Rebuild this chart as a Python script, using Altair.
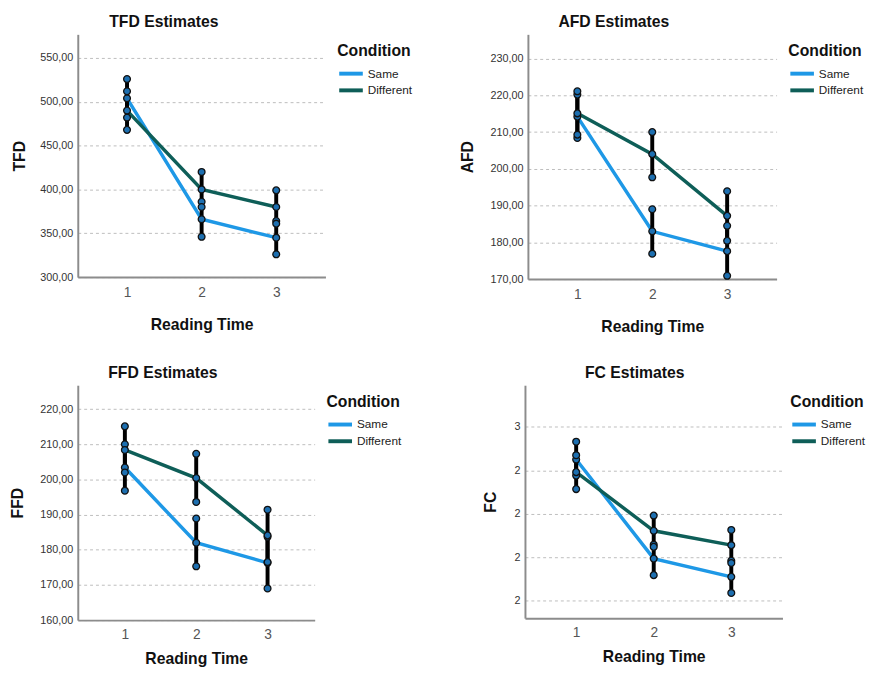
import altair as alt
import pandas as pd

reading_time = [1, 2, 3]
conditions = ["Same", "Different"]

# TFD
tfd_same = [504, 366, 345]
tfd_same_lo = [482, 346, 326]
tfd_same_hi = [526, 386, 364]
tfd_diff = [490, 400, 380]
tfd_diff_lo = [468, 380, 361]
tfd_diff_hi = [512, 420, 399]
tfd_ticks = [300, 350, 400, 450, 500, 550]

# AFD
afd_same = [214.2, 183.0, 177.6]
afd_same_lo = [208.4, 176.9, 170.9]
afd_same_hi = [220.2, 189.0, 184.5]
afd_diff = [215.1, 204.0, 187.2]
afd_diff_lo = [209.3, 197.7, 180.4]
afd_diff_hi = [221.1, 210.0, 193.9]
afd_ticks = [170, 180, 190, 200, 210, 220, 230]

# FFD
ffd_same = [203.4, 182.0, 176.3]
ffd_same_lo = [196.8, 175.3, 169.0]
ffd_same_hi = [210.0, 188.9, 183.7]
ffd_diff = [208.4, 200.4, 184.1]
ffd_diff_lo = [202.0, 193.6, 176.5]
ffd_diff_hi = [215.1, 207.3, 191.4]
ffd_ticks = [160, 170, 180, 190, 200, 210, 220]

# FC
fc_same = [2.425, 2.197, 2.155]
fc_same_lo = [2.388, 2.159, 2.118]
fc_same_hi = [2.466, 2.229, 2.192]
fc_diff = [2.396, 2.261, 2.228]
fc_diff_lo = [2.357, 2.224, 2.187]
fc_diff_hi = [2.435, 2.296, 2.263]
fc_ticks = [2.1, 2.2, 2.3, 2.4, 2.5]

BLUE = "#1E98E6"
TEAL = "#0E5E58"
FONT = "Liberation Sans"
COMMA_EXPR = "replace(format(datum.value, '.2f'), '.', ',')"
INT_EXPR = "format(datum.value, 'd')"


def make_df(same, slo, shi, diff, dlo, dhi):
    rows = []
    for cond, m, lo, hi in [("Same", same, slo, shi), ("Different", diff, dlo, dhi)]:
        for t, a, b, c in zip(reading_time, m, lo, hi):
            rows.append({"time": t, "cond": cond, "mean": a, "lo": b, "hi": c})
    return pd.DataFrame(rows)


def panel(df, name, ydomain, yticks, label_expr, w, h, title_dx, ytitle_pad,
          xtitle_pad, xlabel_pad, legend_gap):
    xscale = alt.Scale(domain=[0.34, 3.66], nice=False, zero=False)
    xaxis = alt.Axis(values=reading_time, format="d", title="Reading Time", grid=False,
                     ticks=False, labelFontSize=14, labelColor="#555555",
                     labelPadding=xlabel_pad, titlePadding=xtitle_pad,
                     domainColor="#8c8c8c", domainWidth=2,
                     titleFontSize=16, titleFontWeight="bold", titleColor="#111111",
                     labelFont=FONT, titleFont=FONT)
    yscale = alt.Scale(domain=ydomain, nice=False, zero=False)
    yaxis = alt.Axis(values=yticks, labelExpr=label_expr, title=name, grid=True,
                     gridDash=[3, 3], gridColor="#bdbdbd", gridWidth=1, ticks=False,
                     labelFontSize=11, labelColor="#333333", labelPadding=5,
                     titlePadding=ytitle_pad, domainColor="#8c8c8c", domainWidth=2,
                     titleFontSize=16, titleFontWeight="bold", titleColor="#111111",
                     labelFont=FONT, titleFont=FONT)
    legend = alt.Legend(title="Condition", orient="none", legendX=w + legend_gap, legendY=9,
                        symbolType="M-1,0H3.8", symbolStrokeWidth=4, symbolSize=100,
                        rowPadding=1, labelFontSize=12, labelColor="#222222",
                        titleFontSize=16, titleFontWeight="bold", titleColor="#111111",
                        titlePadding=8, labelOffset=17, labelFont=FONT, titleFont=FONT)
    base = alt.Chart(df)
    x = alt.X("time:Q", scale=xscale, axis=xaxis)
    lines = base.mark_line(strokeWidth=3.5).encode(
        x=x,
        y=alt.Y("mean:Q", scale=yscale, axis=yaxis),
        color=alt.Color("cond:N", scale=alt.Scale(domain=conditions, range=[BLUE, TEAL]),
                        legend=legend),
        order=alt.Order("time:Q"),
    )
    bars = base.mark_rule(color="black", strokeWidth=4).encode(
        x=x,
        y=alt.Y("lo:Q", scale=yscale, axis=yaxis),
        y2="hi:Q",
    )
    pts = base.transform_fold(["lo", "mean", "hi"], as_=["stat", "val"]).mark_circle(
        size=48, color="#1d6fb0", stroke="#111111", strokeWidth=1.3, opacity=1
    ).encode(
        x=x,
        y=alt.Y("val:Q", scale=yscale, axis=yaxis),
    )
    return alt.layer(lines, bars, pts).properties(
        width=w, height=h,
        title=alt.TitleParams(text=f"{name} Estimates", anchor="start", frame="group",
                              dx=title_dx, fontSize=16, fontWeight="bold", color="#111111",
                              font=FONT, offset=4),
    )


p1 = panel(make_df(tfd_same, tfd_same_lo, tfd_same_hi, tfd_diff, tfd_diff_lo, tfd_diff_hi),
           "TFD", [300, 577], tfd_ticks, COMMA_EXPR, 252, 247, 32, 13, 17, 9, 12)
p2 = panel(make_df(afd_same, afd_same_lo, afd_same_hi, afd_diff, afd_diff_lo, afd_diff_hi),
           "AFD", [170, 236.6], afd_ticks, COMMA_EXPR, 253, 249, 31, 15, 17, 9, 12)
p3 = panel(make_df(ffd_same, ffd_same_lo, ffd_same_hi, ffd_diff, ffd_diff_lo, ffd_diff_hi),
           "FFD", [160, 226.8], ffd_ticks, COMMA_EXPR, 241, 239, 31, 15, 9, 8, 12)
p4 = panel(make_df(fc_same, fc_same_lo, fc_same_hi, fc_diff, fc_diff_lo, fc_diff_hi),
           "FC", [2.06, 2.596], fc_ticks, INT_EXPR, 262, 237, 61, 16, 9, 8, 8)

row1 = alt.hconcat(p1, p2, spacing=45).resolve_scale(color="independent").resolve_legend(color="independent")
row2 = alt.hconcat(p3, p4, spacing=80).resolve_scale(color="independent").resolve_legend(color="independent")

chart = (
    alt.vconcat(row1, row2, spacing=30)
    .resolve_scale(color="independent")
    .resolve_legend(color="independent")
    .properties(padding=0, background="white")
    .configure(font=FONT)
    .configure_view(stroke="transparent")
)

chart.save("out.html", embed_options={"renderer": "svg", "actions": False})
